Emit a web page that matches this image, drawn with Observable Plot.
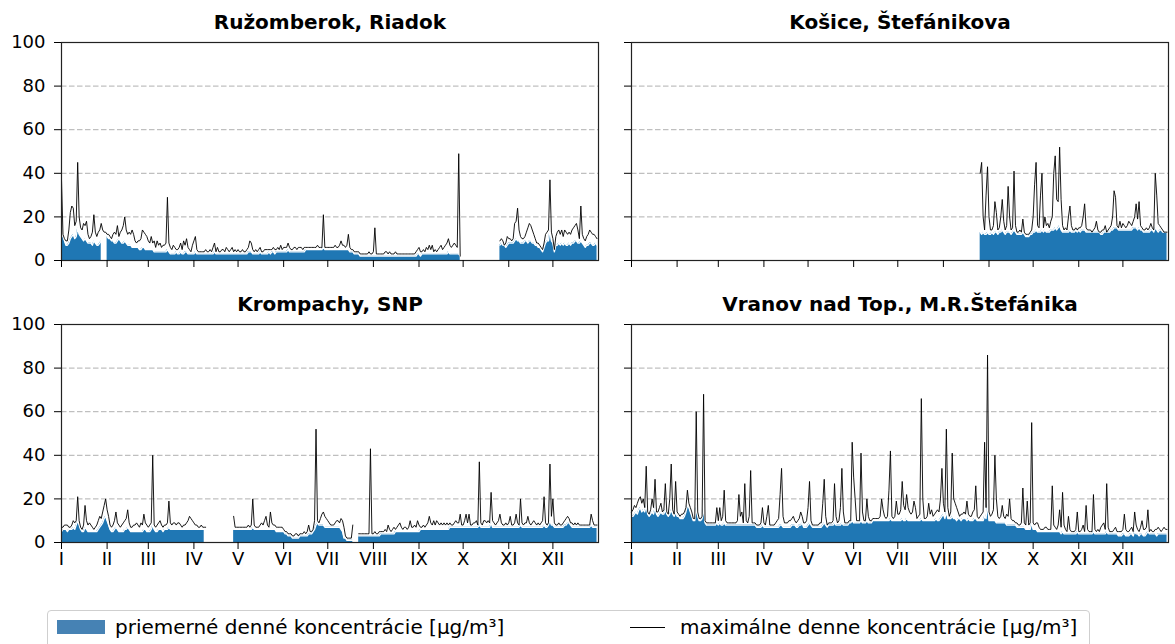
<!DOCTYPE html>
<html><head><meta charset="utf-8">
<script src="https://cdn.jsdelivr.net/npm/d3@7"></script>
<script src="https://cdn.jsdelivr.net/npm/@observablehq/plot@0.6"></script>
<style>
body{margin:0;background:#fff;font-family:"DejaVu Sans",sans-serif;}
#root{position:relative;width:1175px;height:644px;overflow:hidden;background:#fff;}
.panel{position:absolute;}
#legend{position:absolute;left:47px;top:610px;width:1043px;height:50px;border:1px solid #cfcfcf;border-radius:4px;box-sizing:border-box;background:#fff;}
.lt{position:absolute;top:4px;line-height:24px;font-size:20px;white-space:nowrap;color:#000;}
</style></head>
<body><div id="root"></div>
<script>
// ---------- data ----------
const monthStarts = [0,31,59,90,120,151,181,212,243,273,304,334];
const monthLabels = ["I","II","III","IV","V","VI","VII","VIII","IX","X","XI","XII"];
const yTicks = [0,20,40,60,80,100];
const gridVals = [20,40,60,80,100];
const titles = ["Ružomberok, Riadok","Košice, Štefánikova","Krompachy, SNP","Vranov nad Top., M.R.Štefánika"];
const legendLabels = ["priemerné denné koncentrácie [µg/m³]","maximálne denne koncentrácie [µg/m³]"];

// Ružomberok, Riadok (day 0 = 1 Jan)
const ruzStart = 0;
const ruzMean = [
12,11,9,7,7,8,10,11,12,10, 11,15,12,11,10,9,10,9,8,8, 8,7,9,8,7,7,8,9,null,null,
null,11,10,10,9,9,8,8,9,10, 9,8,8,9,8,7,7,7,6,6, 6,6,6,5,5,6,6,5,5,5,
5,5,5,4,4,4,4,4,4,4, 4,4,5,4,3,3,3,3,4,3, 3,4,3,3,4,4,3,3,3,3,
3,4,3,3,3,3,3,3,3,3, 3,3,3,3,4,3,3,3,3,3, 3,3,3,3,3,3,3,3,3,3,
3,3,3,3,3,3,3,4,4,4, 3,3,3,3,3,4,3,3,3,3, 3,4,3,4,4,3,4,4,4,4,
4,4,4,4,5,4,4,4,4,4, 4,4,4,4,4,4,5,5,5,5, 5,5,5,5,5,5,5,5,6,5,
5,5,5,5,5,5,5,5,5,5, 5,5,5,5,5,5,4,4,4,3, 3,3,3,2,2,2,2,2,2,2,
2,2,2,2,2,2,2,2,2,2, 2,2,2,2,2,2,2,2,2,2, 2,2,2,2,2,2,2,2,2,2,
2,2,3,3,2,3,3,3,3,3, 3,3,3,3,3,3,3,3,3,3, 3,3,3,4,3,3,3,3,3,3,
3,2,null,null,null,null,null,null,null,null, null,null,null,null,null,null,null,null,null,null,
null,null,null,null,null,null,null,null,7,8,
7,7,6,7,8,8,8,8,9,10, 9,9,8,8,8,9,9,8,9,9, 8,8,7,7,6,6,5,4,6,8,
9,9,14,9,8,4,7,7,8,7, 8,7,8,7,7,8,7,8,8,9, 9,8,8,9,8,7,6,7,7,8,
8,7,7,8,7];
const ruzMax = [
37,12,10,9,9,14,22,25,24,16, 18,45,20,15,14,17,16,18,12,10, 11,13,21,13,11,13,14,17,14,13,
13,12,12,11,10,12,13,12,16,11, 13,14,16,20,14,12,13,12,14,12, 9,8,9,9,10,14,13,12,11,9,
8,11,8,9,6,9,7,8,6,7, 7,8,29,8,6,5,7,6,5,5, 6,8,5,9,7,10,6,5,4,7,
9,11,5,4,4,4,4,4,5,4, 4,5,4,6,8,4,6,4,4,5, 5,4,6,5,4,5,6,4,5,4,
5,4,4,5,4,4,5,6,9,8, 5,4,5,4,5,6,4,4,5,5, 5,5,5,5,6,5,5,6,5,7,
5,6,6,6,8,6,5,5,6,6, 5,6,6,6,5,6,6,6,6,6, 6,6,6,6,7,6,6,6,21,6,
6,6,6,6,6,6,7,6,6,7, 9,7,7,6,7,12,6,5,5,4, 4,4,4,3,3,3,3,3,3,4,
3,3,4,15,3,3,3,3,3,3, 4,4,3,4,3,3,3,4,3,3, 3,3,3,3,3,3,3,3,3,3,
3,4,5,6,4,4,5,4,6,5, 7,5,7,4,5,4,5,6,7,5, 6,7,8,10,7,6,7,8,7,6,
49,2,null,null,null,null,null,null,null,null, null,null,null,null,null,null,null,null,null,null,
null,null,null,null,null,null,null,null,9,10,
9,7,8,11,10,10,9,10,17,18, 24,14,11,10,10,11,13,15,17,16, 14,12,10,8,8,7,6,5,8,12,
13,14,37,13,10,5,11,13,14,12, 14,11,14,13,12,13,12,14,15,16, 17,14,10,25,12,10,9,11,12,14,
13,12,12,11,10];

// Košice, Štefánikova (measurements start on day 237)
const kosStart = 237;
const kosMean = [
13,12,13,12,12,13,12,12,13,12, 13,13,12,13,13,14,13,12,13,13, 13,12,13,14,13,12,12,12,12,13,
12,11,11,11,12,12,13,13,14,13, 13,13,14,13,14,13,13,13,14,14, 14,15,14,15,16,14,13,13,13,13,
13,14,13,13,13,14,13,14,13,14, 14,14,13,13,13,13,13,13,13,13, 13,13,12,12,13,13,13,13,13,14,
14,15,15,15,14,14,14,14,14,14, 14,14,14,14,15,15,15,14,15,14, 14,13,13,13,13,13,14,14,13,15,
14,13,14,14,13,13,13,13];
const kosMax = [
40,45,20,14,30,43,20,14,14,16, 27,22,14,15,20,28,18,14,16,34, 20,14,15,41,16,13,13,14,13,19,
13,12,12,12,13,14,20,35,45,16, 15,30,40,15,20,16,17,15,18,20, 40,48,28,27,52,28,16,14,15,14,
20,25,16,14,14,15,14,15,15,16, 20,26,15,14,14,14,13,14,15,18, 14,13,13,14,14,16,13,14,15,16,
20,32,29,16,15,18,15,17,16,15, 16,18,17,16,18,20,26,19,27,16, 15,14,14,15,14,15,17,15,14,40,
30,17,16,15,14,13,13,13];

// Krompachy, SNP
const kroStart = 0;
const kroMean = [
5,6,6,6,5,6,6,6,7,6, 8,10,8,6,5,5,7,6,5,5, 5,5,5,5,5,6,7,8,9,11,
12,10,8,6,5,5,6,7,6,5, 5,5,5,6,6,7,6,5,5,5, 5,5,5,5,5,5,6,6,5,5,
5,6,8,6,5,5,6,6,6,5, 6,6,6,7,6,6,6,6,6,6, 6,6,6,6,6,6,6,6,6,6,
6,6,6,6,6,6,6,6,null,null, null,null,null,null,null,null,null,null,null,null,
null,null,null,null,null,null,null,6,6,6,
6,6,6,6,6,6,6,6,6,6, 7,6,6,6,6,6,6,6,6,6, 6,6,6,6,6,6,5,5,5,5,
5,5,4,4,3,3,3,2,2,2, 2,2,3,3,3,3,3,3,4,4, 4,5,6,8,9,8,8,8,8,7,
7,7,7,7,7,7,7,7,7,7, 6,5,2,2,1,1,1,1,1,null, null,null,3,3,3,3,3,3,3,3,
3,3,3,3,3,3,3,4,4,4, 4,4,4,4,4,4,4,5,5,5, 5,5,5,5,5,5,5,5,5,5,
5,5,5,5,6,6,6,6,6,6, 6,6,6,6,6,6,6,6,6,6, 6,6,6,6,7,7,7,7,7,7,
7,7,7,7,7,7,7,7,7,7, 7,7,7,7,8,7,7,7,7,7, 7,7,9,7,7,7,7,7,7,7,
7,7,7,7,7,7,7,7,7,7, 7,7,8,7,7,7,7,7,7,7, 7,7,7,7,7,7,7,7,8,7,
7,8,10,8,8,7,7,7,7,7, 7,7,8,8,9,9,8,7,7,7, 7,7,7,7,7,7,7,7,7,7,
8,7,7,7,7];
const kroMax = [
7,7,8,8,8,7,7,8,10,9, 10,21,10,7,6,8,17,10,8,9, 8,7,6,7,8,10,12,11,14,17,
20,15,12,8,7,8,10,14,9,8, 7,8,9,10,11,15,9,7,7,8, 8,9,8,7,9,8,13,9,8,7,
8,9,40,8,7,8,9,10,8,7, 8,8,9,19,9,8,9,9,8,9, 9,8,7,8,8,9,10,12,11,10,
9,8,8,7,7,8,7,7,7,null, null,null,null,null,null,null,null,null,null,null,
null,null,null,null,null,null,null,12,7,7,
7,7,7,7,7,7,7,8,7,8, 20,8,7,7,7,8,9,8,10,12, 8,7,14,9,8,8,7,7,7,7,
7,6,5,5,4,4,4,3,3,4, 4,3,4,4,4,5,4,5,8,5, 5,6,10,52,10,9,11,13,14,12,
11,10,9,8,8,8,9,10,10,9, 11,10,7,3,2,2,2,2,8,null, null,null,4,4,4,4,4,4,4,4,
43,4,4,5,4,4,5,5,5,5, 6,5,8,6,5,6,7,6,7,8, 9,7,6,7,7,6,7,10,7,7,
8,7,10,8,7,7,8,7,8,9, 12,9,8,10,8,10,9,8,9,8, 9,8,9,8,9,8,8,9,10,9,
9,13,8,8,10,13,9,13,8,8, 9,9,10,8,37,9,8,10,10,9, 10,9,23,10,9,8,9,10,13,9,
8,8,9,8,9,12,8,8,9,13, 9,8,20,9,8,9,9,12,9,8, 9,10,9,8,9,8,9,10,21,9,
8,9,36,12,20,9,8,8,9,8, 8,9,10,11,12,11,9,9,8,9, 8,9,8,8,8,8,8,8,8,8,
13,10,8,8,8];

// Vranov nad Topľou, M.R.Štefánika
const vraStart = 0;
const vraMean = [
12,12,13,14,13,15,16,14,15,14, 17,13,12,13,14,13,16,13,12,13, 14,13,13,15,13,12,13,15,13,12,
14,12,12,11,11,11,12,14,17,16, 14,12,10,10,16,12,10,10,11,16, 9,8,8,8,8,8,8,8,9,8,
9,8,8,9,8,8,8,8,8,8, 8,8,8,8,8,8,8,8,8,8, 8,8,8,8,8,7,7,7,7,8,
7,7,7,7,7,7,7,7,7,7, 7,8,8,7,7,7,7,7,7,8, 8,8,7,7,8,8,9,7,7,7,
8,9,8,7,7,7,7,7,7,7, 8,9,8,7,8,8,8,8,9,8, 8,8,8,9,8,8,8,8,9,9,
10,9,9,9,9,9,10,9,9,9, 10,9,9,9,10,10,10,10,10,10, 10,10,10,10,10,10,11,10,10,10,
10,10,10,10,11,10,10,11,10,10, 10,10,10,10,10,10,10,11,10,10, 10,10,10,10,10,10,10,11,10,10,
11,12,13,11,14,11,11,11,12,11, 11,10,11,11,10,11,11,11,10,11, 10,10,10,11,11,10,10,10,10,10,
12,11,18,10,10,10,10,10,9,9, 9,9,9,9,9,8,8,8,8,8, 8,8,7,7,7,7,7,7,6,6,
6,6,9,6,6,6,5,5,5,5, 5,5,5,5,5,5,5,5,5,5, 5,5,4,5,4,4,4,4,4,4,
4,4,4,5,4,4,4,4,4,4, 4,4,4,4,5,4,4,4,4,4, 4,4,4,5,4,4,4,4,4,4,
4,3,3,3,4,4,3,3,3,4, 4,3,5,4,4,3,4,4,3,3, 4,5,4,4,4,4,4,3,4,4,
4,4,4,4,4];
const vraMax = [
14,15,17,16,18,20,21,18,20,16, 35,14,13,15,20,16,29,14,14,16, 18,14,15,27,14,13,20,36,15,13,
28,14,13,12,13,13,14,16,24,18, 16,14,11,11,60,14,11,11,12,68, 10,9,9,9,9,9,9,9,16,10,
16,10,12,24,10,9,9,9,9,9, 9,9,10,22,12,14,9,27,10,9, 12,33,9,9,9,8,8,8,9,16,
9,8,12,17,8,8,8,8,9,10, 11,22,34,12,9,9,9,10,10,11, 12,10,9,10,11,14,12,9,9,10,
16,28,10,8,8,8,8,8,9,9, 18,29,12,8,9,9,9,10,27,12, 9,10,16,34,14,9,9,9,10,10,
46,30,20,10,10,10,41,14,10,10, 20,12,10,10,11,11,11,11,11,12, 20,15,12,11,12,24,42,12,11,12,
19,13,13,15,28,17,15,22,16,14, 13,14,19,16,11,12,13,66,20,11, 11,12,18,13,15,12,13,14,15,14,
20,34,18,14,52,16,12,14,41,20, 18,16,14,12,13,13,14,13,19,13, 12,12,14,15,26,12,11,12,13,14,
46,16,86,14,12,13,15,40,20,12, 11,12,17,12,11,13,12,20,11,10, 10,9,9,8,8,9,25,9,8,19,
8,9,55,9,8,9,9,7,6,6, 6,7,7,6,6,6,26,8,7,6, 8,15,7,23,8,6,5,12,6,5,
5,5,6,14,5,5,6,8,5,17, 6,5,5,5,22,6,5,6,5,7, 8,9,6,27,7,5,5,5,6,7,
5,5,5,5,6,13,6,5,5,6, 7,5,14,8,6,5,7,10,6,6, 7,15,5,6,5,5,6,6,7,6,
5,6,7,6,6];

// ---------- build ----------
function check(name, a, n){ if(a.length!==n) throw new Error(name+" length "+a.length+" expected "+n); }
check("ruzMean",ruzMean,365); check("ruzMax",ruzMax,365);
check("kosMean",kosMean,128); check("kosMax",kosMax,128);
check("kroMean",kroMean,365); check("kroMax",kroMax,365);
check("vraMean",vraMean,365); check("vraMax",vraMax,365);

function panel(mean, max, start, title, showX, showY){
  const rows = mean.map((m,i)=>({day:start+i, mean:m, max:max[i]}));
  const h = showX ? 301 : 290;
  return Plot.plot({
    width: 600, height: h,
    marginLeft: 61, marginRight: 2, marginTop: 42, marginBottom: h-42-218,
    x: {domain:[0,365], label:null},
    y: {domain:[0,100], label:null},
    style: {fontFamily:"DejaVu Sans", fontSize:"18px", color:"#000", background:"transparent", overflow:"visible"},
    marks: [
      Plot.ruleY(gridVals, {stroke:"#b0b0b0", strokeWidth:1, strokeDasharray:"5.5,2.5"}),
      Plot.areaY(rows, {x:"day", y1:0, y2:"mean", fill:"#1f77b4"}),
      Plot.lineY(rows, {x:"day", y:"mean", stroke:"#fff", strokeWidth:1.3}),
      Plot.lineY(rows, {x:"day", y:"max", stroke:"#000", strokeWidth:0.9}),
      Plot.frame({stroke:"#222", strokeWidth:1.2}),
      Plot.axisY(yTicks, {tickSize:7, tickPadding:9, label:null, fontSize:18,
        tickFormat: showY ? (d=>String(d)) : (()=>"")}),
      Plot.axisX(monthStarts, {tickSize:7, tickPadding:3, label:null, fontSize:18,
        tickFormat: showX ? (d=>monthLabels[monthStarts.indexOf(d)]) : (()=>"")}),
      Plot.text([title], {frameAnchor:"top", text:d=>d, dy:-20, lineAnchor:"middle",
        fontWeight:"bold", fontSize:20, fill:"#000"})
    ]
  });
}

const root = document.getElementById("root");
function place(el, left, top){ el.classList.add("panel"); el.style.left=left+"px"; el.style.top=top+"px"; root.appendChild(el); }
place(panel(ruzMean, ruzMax, ruzStart, titles[0], false, true), 0, 0);
place(panel(kosMean, kosMax, kosStart, titles[1], false, false), 570, 0);
place(panel(kroMean, kroMax, kroStart, titles[2], true, true), 0, 282);
place(panel(vraMean, vraMax, vraStart, titles[3], true, false), 570, 282);

const lg = document.createElement("div");
lg.id = "legend";
lg.innerHTML =
  '<div style="position:absolute;left:9px;top:9px;width:48px;height:14px;background:#4682b4"></div>'+
  '<div class="lt" style="left:67px">'+legendLabels[0]+'</div>'+
  '<div style="position:absolute;left:582px;top:16px;width:35px;height:1px;background:#000"></div>'+
  '<div class="lt" style="left:632px">'+legendLabels[1]+'</div>';
root.appendChild(lg);
</script>
</body></html>
